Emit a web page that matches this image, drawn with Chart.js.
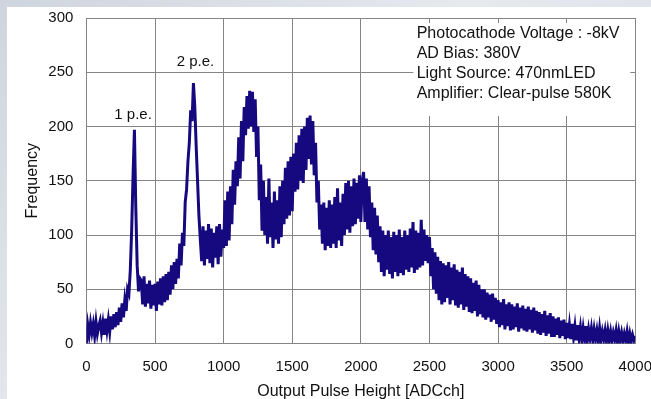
<!DOCTYPE html>
<html>
<head>
<meta charset="utf-8">
<title>Output Pulse Height</title>
<script src="https://cdn.jsdelivr.net/npm/chart.js@4.4.1/dist/chart.umd.min.js"></script>
<style>
    html, body { margin: 0; padding: 0; width: 651px; height: 399px; overflow: hidden; }
    body { position: relative; background: linear-gradient(135deg, #cfd5de 0%, #e6e9ee 45%, #d5dbe3 100%); }
    #panel { position: absolute; left: 7px; top: 7px; width: 660px; height: 400px; background: #fff; }
    canvas { display: block; }
</style>
</head>
<body>
<div id="panel"><canvas id="pulseChart" width="660" height="400"></canvas></div>
<script>
// Histogram bins: ADC channel of the first bin and width of each bin
const binStart = 0;
const binWidth = 10;

// Counts per bin (one row = 100 channels)
const counts = [
    0, 17, 8, 19, 10, 18, 7, 20, 9, 16,
    21, 10, 19, 8, 23, 12, 22, 11, 25, 13,
    27, 15, 29, 17, 33, 20, 37, 24, 40, 30,
    50, 46, 68, 105, 155, 197, 125, 72, 48, 60,
    58, 36, 62, 34, 55, 37, 58, 32, 54, 35,
    55, 30, 57, 36, 60, 35, 62, 38, 64, 40,
    66, 45, 72, 50, 75, 55, 78, 60, 92, 72,
    102, 90, 130, 142, 168, 185, 215, 205, 240, 218,
    182, 150, 118, 96, 76, 108, 72, 104, 78, 110,
    74, 106, 70, 102, 79, 108, 73, 110, 80, 105,
    88, 132, 90, 140, 95, 145, 110, 160, 128, 168,
    145, 190, 152, 205, 168, 218, 192, 228, 198, 233,
    200, 232, 195, 225, 172, 200, 132, 165, 104, 150,
    100, 135, 92, 152, 98, 130, 88, 140, 96, 132,
    92, 145, 98, 150, 110, 162, 115, 168, 118, 172,
    122, 175, 140, 185, 142, 192, 150, 198, 148, 200,
    160, 208, 170, 210, 165, 205, 155, 185, 130, 150,
    105, 128, 92, 130, 86, 125, 90, 132, 88, 128,
    92, 135, 88, 143, 95, 130, 90, 138, 100, 148,
    105, 150, 102, 145, 108, 152, 110, 148, 115, 155,
    112, 150, 158, 112, 152, 105, 145, 98, 130, 86,
    125, 82, 118, 75, 108, 66, 104, 62, 100, 68,
    104, 64, 98, 60, 103, 66, 100, 62, 105, 65,
    98, 63, 104, 68, 100, 66, 106, 70, 112, 65,
    104, 68, 102, 70, 114, 72, 105, 76, 100, 74,
    98, 62, 88, 50, 84, 46, 80, 40, 76, 36,
    74, 38, 72, 42, 75, 36, 70, 40, 73, 35,
    68, 33, 66, 36, 70, 31, 64, 34, 62, 29,
    60, 28, 56, 30, 58, 25, 54, 27, 50, 24,
    50, 22, 47, 24, 45, 20, 46, 22, 42, 18,
    40, 15, 38, 17, 41, 13, 36, 16, 38, 12,
    36, 13, 34, 15, 37, 11, 33, 14, 35, 12,
    32, 11, 34, 13, 31, 10, 33, 12, 30, 9,
    29, 8, 27, 10, 30, 7, 26, 9, 28, 6,
    25, 6, 23, 8, 24, 5, 21, 7, 22, 4,
    19, 5, 17, 4, 18, 6, 16, 3, 17, 5,
    15, 3, 14, 4, 16, 2, 13, 5, 14, 3,
    13, 4, 12, 2, 14, 3, 11, 4, 12, 2,
    12, 3, 11, 2, 10, 4, 12, 1, 11, 3,
    10, 2, 9, 3, 11, 1, 9, 2, 8, 3,
    7
];

// Axis ranges and tick spacing
const xTicks = { min: 0, max: 4000, step: 500 };
const yTicks = { min: 0, max: 300, step: 50 };

// Measurement conditions shown in the upper right box
const infoLines = [
    'Photocathode Voltage : -8kV',
    'AD Bias: 380V',
    'Light Source: 470nmLED',
    'Amplifier: Clear-pulse 580K'
];

// Photoelectron peak labels: text, channel, frequency
const peakLabels = [
    { text: '1 p.e.', ch: 340, freq: 211 },
    { text: '2 p.e.', ch: 795, freq: 260 }
];

const ChartStyle = {
    font: '"Liberation Sans", Arial, Helvetica, sans-serif',
    text: '#111111',
    line: '#16087f',
    grid: '#858585'
};

// Draws the white info box over the grid and the peak labels
const annotations = {
    id: 'annotations',
    beforeDatasetsDraw(chart) {
        const { ctx, chartArea, scales } = chart;
        ctx.save();
        ctx.fillStyle = '#ffffff';
        ctx.fillRect(chartArea.right - 222, chartArea.top + 5, 217, 93);
        ctx.fillStyle = ChartStyle.text;
        ctx.font = '16px ' + ChartStyle.font;
        ctx.textAlign = 'left';
        ctx.textBaseline = 'middle';
        infoLines.forEach((line, i) => {
            ctx.fillText(line, chartArea.right - 218.6, chartArea.top + 15.5 + i * 20);
        });
        ctx.font = '15px ' + ChartStyle.font;
        ctx.textAlign = 'center';
        peakLabels.forEach(p => {
            ctx.fillText(p.text, scales.x.getPixelForValue(p.ch), scales.y.getPixelForValue(p.freq));
        });
        ctx.restore();
    }
};

const points = counts.map((c, i) => ({ x: binStart + i * binWidth, y: c }));

new Chart(document.getElementById('pulseChart').getContext('2d'), {
    type: 'line',
    data: {
        datasets: [{
            label: 'Frequency',
            data: points,
            borderColor: ChartStyle.line,
            borderWidth: 3,
            pointRadius: 0,
            tension: 0,
            fill: false
        }]
    },
    options: {
        responsive: false,
        animation: false,
        events: [],
        layout: { padding: { top: 11, right: 31.7, left: 0, bottom: 0 } },
        plugins: {
            legend: { display: false },
            tooltip: { enabled: false }
        },
        scales: {
            x: {
                type: 'linear',
                min: xTicks.min,
                max: xTicks.max,
                afterFit: scale => {
                    scale.height = 63.5;
                    scale.paddingLeft = 0;
                    scale.paddingRight = 0;
                },
                ticks: {
                    stepSize: xTicks.step,
                    autoSkip: false,
                    maxRotation: 0,
                    padding: 14.5,
                    color: ChartStyle.text,
                    font: { family: ChartStyle.font, size: 15 },
                    callback: v => String(v)
                },
                grid: { color: ChartStyle.grid, lineWidth: 1, drawTicks: false },
                border: { color: ChartStyle.grid },
                title: {
                    display: true,
                    text: 'Output Pulse Height [ADCch]',
                    color: ChartStyle.text,
                    padding: { top: 0, bottom: 5.4 },
                    font: { family: ChartStyle.font, size: 16 }
                }
            },
            y: {
                min: yTicks.min,
                max: yTicks.max,
                afterFit: scale => {
                    scale.width = 79.4;
                    scale.paddingTop = 0;
                    scale.paddingBottom = 0;
                },
                ticks: {
                    stepSize: yTicks.step,
                    padding: 13,
                    color: ChartStyle.text,
                    font: { family: ChartStyle.font, size: 15 },
                    callback: v => String(v)
                },
                grid: { color: ChartStyle.grid, lineWidth: 1, drawTicks: false },
                border: { color: ChartStyle.grid },
                title: {
                    display: true,
                    text: 'Frequency',
                    color: ChartStyle.text,
                    padding: { top: 16, bottom: 0 },
                    font: { family: ChartStyle.font, size: 16 }
                }
            }
        }
    },
    plugins: [annotations]
});
</script>
</body>
</html>
